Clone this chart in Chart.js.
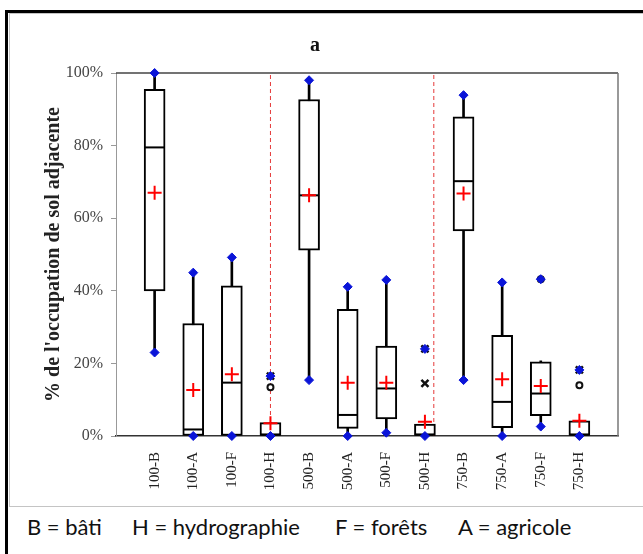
<!DOCTYPE html>
<html>
<head>
<meta charset="utf-8">
<script src="https://cdn.jsdelivr.net/npm/chart.js@4.4.1/dist/chart.umd.min.js"></script>
<style>
  html, body { margin: 0; padding: 0; background: #fff; width: 643px; height: 554px; overflow: hidden; }
  #frame { position: absolute; left: 5px; top: 10px; width: 660px; height: 560px; border: 3px solid #000; box-sizing: border-box; }
  #chartBox { position: absolute; left: 9px; top: 13px; width: 660px; height: 494px; border: 1px solid #c4c4c4; box-sizing: border-box; }
  #wrap { position: absolute; left: 0; top: 0; width: 634px; height: 492px; }
  .key { position: absolute; top: 513px; font-family: Lato, "Open Sans", sans-serif; font-size: 22px; color: #111; white-space: nowrap; }
</style>
</head>
<body>
<div id="frame"></div>
<div id="chartBox"><div id="wrap"><canvas id="boxChart"></canvas></div></div>
<span class="key" style="left:27px">B = bâti</span>
<span class="key" style="left:132px">H = hydrographie</span>
<span class="key" style="left:335px">F = forêts</span>
<span class="key" style="left:458px">A = agricole</span>
<script>
// categories and box-plot statistics (% of adjacent land use)
const categories = ['100-B', '100-A', '100-F', '100-H', '500-B', '500-A', '500-F', '500-H', '750-B', '750-A', '750-F', '750-H'];
const minVals = [23, 0, 0, 0, 15.4, 0, 0.9, 0, 15.4, 0, 2.6, 0];
const maxVals = [100, 45, 49.2, 16.5, 98, 41.1, 43, 24, 93.9, 42.3, 43.2, 18.2];
const q1Vals = [40, 0, 0, 0, 51.2, 2.1, 4.7, 0, 56.5, 2.3, 5.6, 0];
const q3Vals = [95.5, 31, 41.4, 3.7, 92.7, 34.9, 24.8, 3.3, 87.9, 27.7, 20.4, 4.2];
const medianVals = [79.5, 1.8, 14.7, 0.4, 66.3, 5.8, 13.1, 0.4, 70.2, 9.4, 11.7, 0.4];
const meanVals = [67, 12.7, 17, 3.5, 66.3, 14.7, 14.7, 3.9, 66.8, 15.6, 13.8, 4.2];
const whiskerLow = [23, 0, 0, 0, 15.4, 0, 0.9, 0, 15.4, 0, 2.6, 0];
const whiskerHigh = [100, 45, 49.2, 3.7, 98, 41.1, 43, 3.3, 93.9, 42.3, 20.7, 4.2];

// outliers: category + value
const crossOutCats = ['100-H', '500-H', '500-H', '750-H'];
const crossOutVals = [16.5, 24, 14.5, 18.2];
const circleOutCats = ['100-H', '750-F', '750-H'];
const circleOutVals = [13.4, 43.2, 14];

// group separators (in category units)
const separators = [3, 7.23];
const yTicks = [0, 20, 40, 60, 80, 100];

const idx = c => categories.indexOf(c);
const pts = (vals) => vals.map((v, i) => ({ x: i, y: v }));

const datasets = [];

separators.forEach(s => {
    datasets.push({
        type: 'line',
        data: [{ x: s, y: 0 }, { x: s, y: 100 }],
        borderColor: '#e53a3a',
        borderWidth: 1,
        borderDash: [4, 3],
        pointRadius: 0,
        order: 20
    });
});

datasets.push({
    type: 'bar',
    data: categories.map((c, i) => ({ x: i, y: [whiskerLow[i], whiskerHigh[i]] })),
    backgroundColor: '#000',
    borderWidth: 0,
    barThickness: 2,
    grouped: false,
    order: 10
});

datasets.push({
    type: 'bar',
    data: categories.map((c, i) => ({ x: i, y: [q1Vals[i], q3Vals[i]] })),
    backgroundColor: '#fff',
    borderColor: '#000',
    borderWidth: 2,
    borderSkipped: false,
    barThickness: 21,
    grouped: false,
    order: 9
});

datasets.push({
    type: 'line',
    showLine: false,
    data: pts(medianVals),
    pointStyle: 'line',
    pointRadius: 10,
    pointBorderWidth: 2,
    pointBorderColor: '#000',
    order: 8
});

datasets.push({
    type: 'line',
    showLine: false,
    data: crossOutCats.map((c, i) => ({ x: idx(c), y: crossOutVals[i] })),
    pointStyle: 'crossRot',
    pointRadius: 5,
    pointBorderWidth: 2.5,
    pointBorderColor: '#111',
    order: 7
});

datasets.push({
    type: 'line',
    showLine: false,
    data: circleOutCats.map((c, i) => ({ x: idx(c), y: circleOutVals[i] })),
    pointStyle: 'circle',
    pointRadius: 3,
    pointBorderWidth: 2,
    pointBorderColor: '#111',
    pointBackgroundColor: '#fff',
    order: 7
});

datasets.push({
    type: 'line',
    showLine: false,
    clip: false,
    data: pts(minVals).concat(pts(maxVals)),
    pointStyle: 'rectRot',
    pointRadius: 4.5,
    pointBorderWidth: 1,
    pointBorderColor: '#0a14d8',
    pointBackgroundColor: '#0a14d8',
    order: 5
});

datasets.push({
    type: 'line',
    showLine: false,
    clip: false,
    data: pts(meanVals),
    pointStyle: 'cross',
    pointRadius: 7,
    pointBorderWidth: 2,
    pointBorderColor: '#ff0000',
    order: 1
});

// top + right border of the plot area
const plotFrame = {
    id: 'plotFrame',
    beforeDatasetsDraw(chart) {
        const { ctx, chartArea: a } = chart;
        ctx.save();
        ctx.lineWidth = 1.5;
        ctx.strokeStyle = '#444';
        ctx.beginPath();
        ctx.moveTo(a.left, a.top);
        ctx.lineTo(a.right, a.top);
        ctx.stroke();
        ctx.strokeStyle = '#777';
        ctx.beginPath();
        ctx.moveTo(a.right, a.top);
        ctx.lineTo(a.right, a.bottom);
        ctx.stroke();
        ctx.restore();
    }
};

new Chart(document.getElementById('boxChart'), {
    type: 'bar',
    data: { datasets },
    options: {
        responsive: true,
        maintainAspectRatio: false,
        animation: false,
        layout: { padding: { top: 0, right: 24, left: 0, bottom: 0 } },
        plugins: {
            legend: { display: false },
            tooltip: { enabled: false },
            title: {
                display: true,
                text: 'a',
                color: '#111',
                font: { family: '"Liberation Serif", serif', size: 20, weight: 'bold' },
                padding: { top: 20, bottom: 15 }
            }
        },
        scales: {
            x: {
                type: 'linear',
                min: -1,
                max: 12,
                offset: false,
                afterFit: s => { s.height = 70; },
                grid: { display: false, offset: false },
                border: { display: true, color: '#333', width: 1.5 },
                ticks: {
                    stepSize: 1,
                    autoSkip: false,
                    minRotation: 90,
                    maxRotation: 90,
                    padding: 8,
                    color: '#222',
                    font: { family: '"Liberation Serif", serif', size: 15 },
                    callback: v => categories[v] || ''
                }
            },
            y: {
                min: 0,
                max: 100,
                afterFit: s => { s.width = 106; },
                afterBuildTicks: s => { s.ticks = yTicks.map(v => ({ value: v })); },
                grid: { drawOnChartArea: false, drawTicks: true, tickLength: 5, color: '#999' },
                border: { display: true, color: '#999', width: 1 },
                ticks: {
                    padding: 8,
                    color: '#444',
                    font: { family: '"Liberation Serif", serif', size: 16 },
                    callback: v => v + '%'
                },
                title: {
                    display: true,
                    text: "% de l'occupation de sol adjacente",
                    color: '#222',
                    font: { family: '"Liberation Serif", serif', size: 20, weight: 'bold' },
                    padding: { top: 32, bottom: 0 }
                }
            }
        }
    },
    plugins: [plotFrame]
});
</script>
</body>
</html>
